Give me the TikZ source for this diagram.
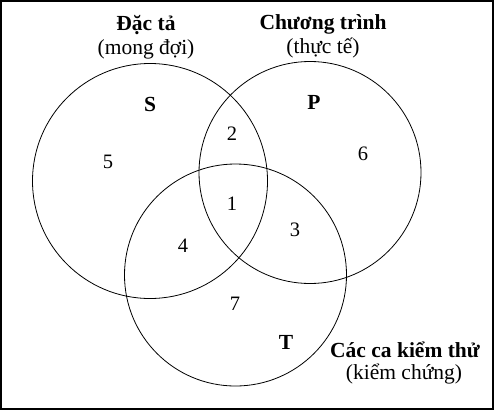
\documentclass[tikz,border=0pt]{standalone}
\usepackage{fontspec}
\setmainfont{Liberation Serif}
\begin{document}
\begin{tikzpicture}[x=1pt,y=-1pt,
  setc/.style={draw=black,line width=0.8pt,circle,inner sep=0pt},
  lbl/.style={font=\fontsize{21.5}{23}\selectfont,inner sep=0pt,align=center},
  blbl/.style={font=\fontsize{21.5}{23}\selectfont\bfseries,inner sep=0pt},
  num/.style={font=\fontsize{20.5}{22}\selectfont,inner sep=0pt}]
\useasboundingbox (0,0) rectangle (495,413);
\fill[white] (0,0) rectangle (495,413);
\draw[line width=1.4pt] (1,1) rectangle (493,409);
\node[setc,minimum size=235pt] (S) at (150,181) {};
\node[setc,minimum size=222pt] (P) at (310,172.5) {};
\node[setc,minimum size=222pt] (T) at (235.5,275) {};
\node[blbl] (st1) at (146,25) {Đặc tả};
\node[lbl] (st2) at (146,49) {(mong đợi)};
\node[blbl] (pt1) at (323,24) {Chương trình};
\node[lbl] (pt2) at (323,48) {(thực tế)};
\node[blbl] (tt1) at (405,350) {Các ca kiểm thử};
\node[lbl] (tt2) at (404,374) {(kiểm chứng)};
\node[blbl] (Sl) at (150,104) {S};
\node[blbl] (Pl) at (314,102) {P};
\node[blbl] (Tl) at (286,342) {T};
\node[num] (n5) at (108,162) {5};
\node[num] (n2) at (232,134) {2};
\node[num] (n6) at (363,154) {6};
\node[num] (n1) at (232,204) {1};
\node[num] (n3) at (295,230) {3};
\node[num] (n4) at (183,246) {4};
\node[num] (n7) at (235,304) {7};
\end{tikzpicture}
\end{document}
